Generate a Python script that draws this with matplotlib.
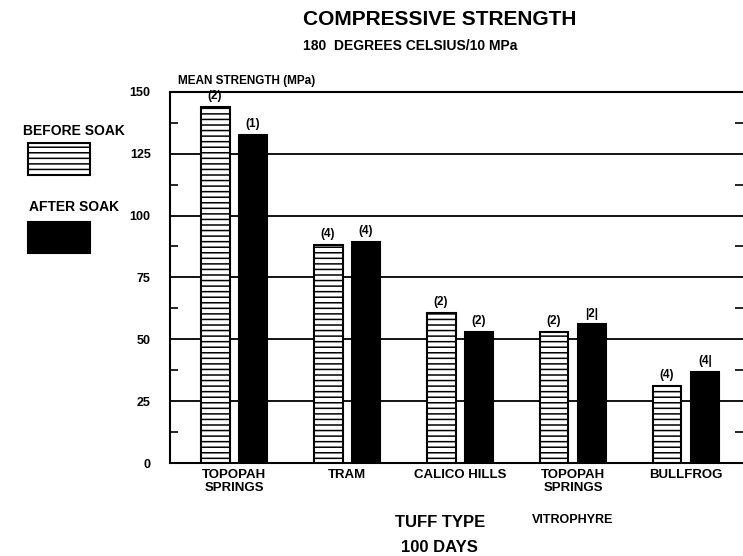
import numpy as np
import matplotlib.pyplot as plt
from matplotlib.patches import Rectangle

plt.rcParams['font.family'] = ['Liberation Sans', 'DejaVu Sans']
plt.rcParams['font.weight'] = 'bold'
plt.rcParams['hatch.linewidth'] = 1.1

# data
tuff_types = ['TOPOPAH\nSPRINGS', 'TRAM', 'CALICO HILLS', 'TOPOPAH\nSPRINGS', 'BULLFROG']
before_soak = [144, 88, 60.5, 53, 31]
after_soak = [132.5, 89.5, 53, 56, 37]
before_n = ['(2)', '(4)', '(2)', '(2)', '(4)']
after_n = ['(1)', '(4)', '(2)', '|2|', '(4|']
y_ticks = [0, 25, 50, 75, 100, 125, 150]

fig = plt.figure(figsize=(7.43, 5.56), dpi=100)
ax = fig.add_axes([0.229, 0.167, 0.771, 0.668])

x = np.arange(len(tuff_types))
w = 0.255
off = 0.168
ax.bar(x - off, before_soak, w, color='white', edgecolor='black', hatch='---', linewidth=1.5, zorder=3)
ax.bar(x + off, after_soak, w, color='black', edgecolor='black', linewidth=1.5, zorder=3)

for i in range(len(x)):
    ax.text(x[i] - off, before_soak[i] + 2, before_n[i], ha='center', va='bottom', fontsize=8.5, fontweight='bold')
    ax.text(x[i] + off, after_soak[i] + 2, after_n[i], ha='center', va='bottom', fontsize=8.5, fontweight='bold')

ax.set_xlim(-0.566, 4.504)
ax.set_ylim(0, 150)
ax.set_yticks(y_ticks)
ax.set_yticks(np.arange(12.5, 150, 25), minor=True)
ax.set_yticklabels([str(v) for v in y_ticks], fontsize=9, fontweight='bold')
ax.tick_params(axis='y', which='major', length=0, pad=14)
ax.tick_params(axis='y', which='minor', direction='in', length=6, width=1.2, right=True)
ax.yaxis.grid(True, which='major', color='black', linewidth=1.3, zorder=0)
ax.set_xticks(x)
ax.set_xticklabels(tuff_types, fontsize=9.5, fontweight='bold', linespacing=1.15)
ax.tick_params(axis='x', length=0, pad=4)
ax.spines['right'].set_visible(False)
for s in ['left', 'bottom', 'top']:
    ax.spines[s].set_linewidth(1.5)

# titles
fig.text(0.592, 0.965, 'COMPRESSIVE STRENGTH', ha='center', va='center', fontsize=15, fontweight='bold')
fig.text(0.552, 0.918, '180  DEGREES CELSIUS/10 MPa', ha='center', va='center', fontsize=10, fontweight='bold')
fig.text(0.24, 0.855, 'MEAN STRENGTH (MPa)', ha='left', va='center', fontsize=8.5, fontweight='bold')
fig.text(0.592, 0.06, 'TUFF TYPE', ha='center', va='center', fontsize=12, fontweight='bold')
fig.text(0.592, 0.015, '100 DAYS', ha='center', va='center', fontsize=12, fontweight='bold')
fig.text(0.77, 0.065, 'VITROPHYRE', ha='center', va='center', fontsize=9, fontweight='bold')

# legend
fig.text(0.10, 0.765, 'BEFORE SOAK', ha='center', va='center', fontsize=10, fontweight='bold')
fig.patches.append(Rectangle((0.038, 0.685), 0.083, 0.058, transform=fig.transFigure,
                             facecolor='white', edgecolor='black', hatch='---', linewidth=1.5))
fig.text(0.10, 0.627, 'AFTER SOAK', ha='center', va='center', fontsize=10, fontweight='bold')
fig.patches.append(Rectangle((0.038, 0.545), 0.083, 0.056, transform=fig.transFigure,
                             facecolor='black', edgecolor='black', linewidth=1.5))

fig.savefig('out.png', dpi=100)
